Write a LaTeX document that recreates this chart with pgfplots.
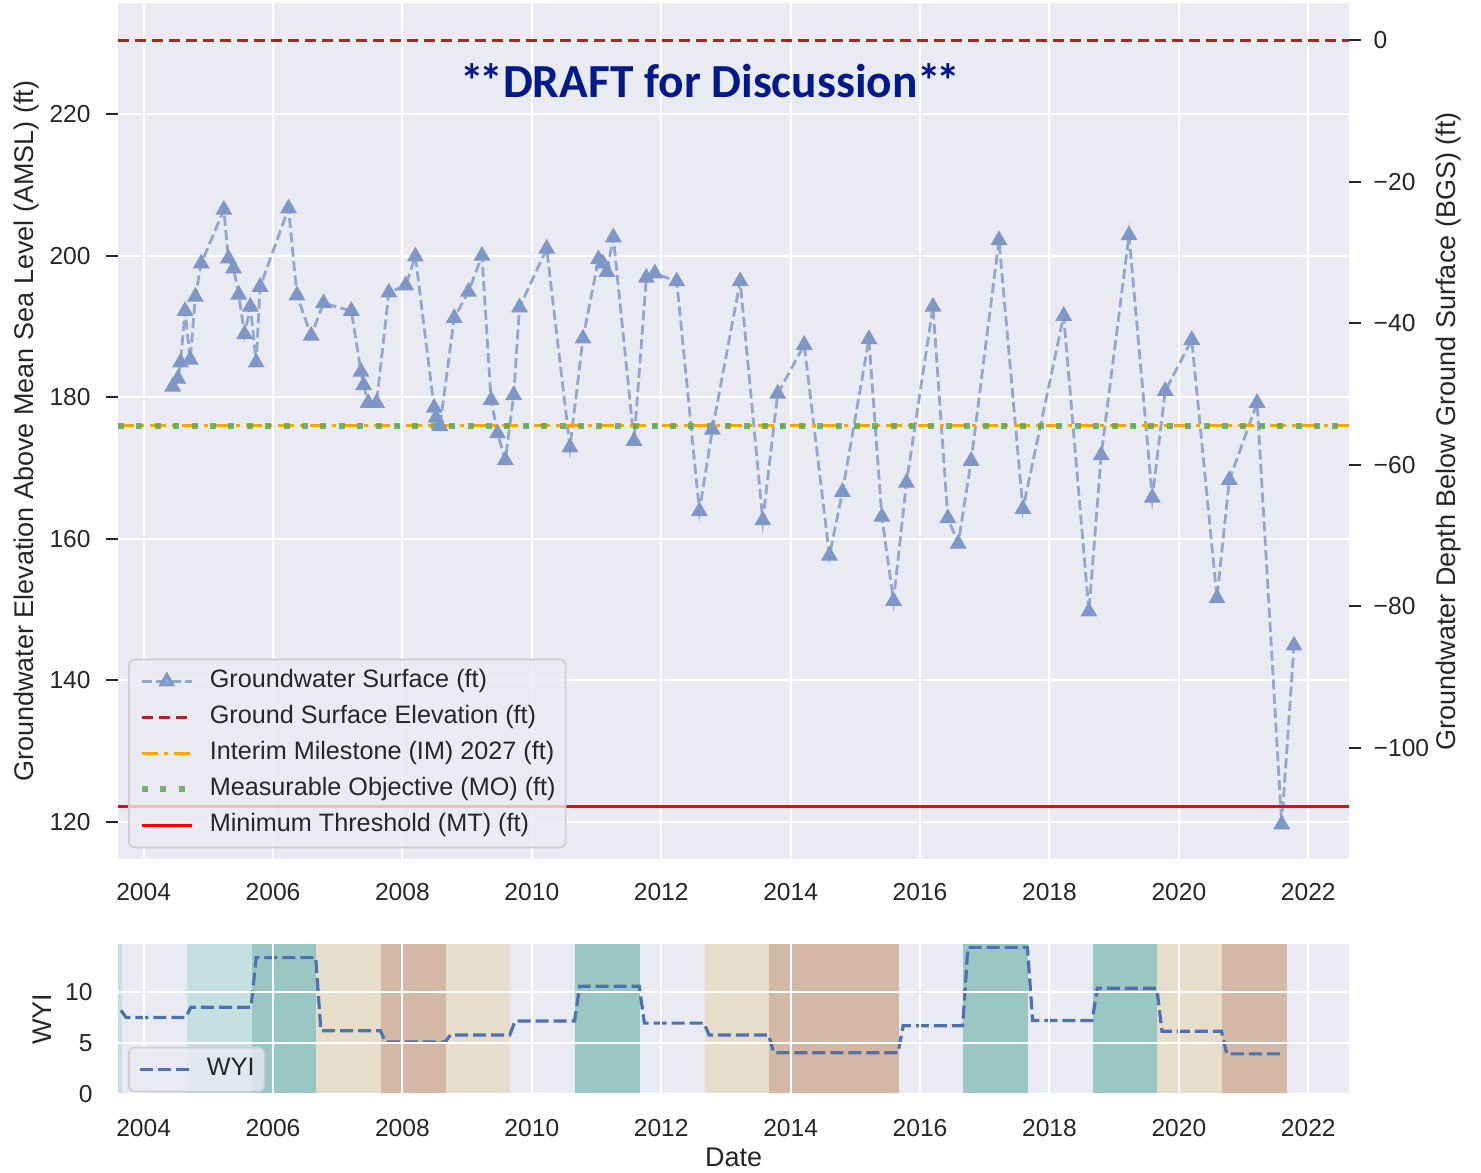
\documentclass[border=0pt]{standalone}
\usepackage{pgfplots}
\pgfplotsset{compat=1.18}
\usepackage{fontspec}
\setmainfont{Liberation Sans}
\newfontfamily\titlefont{Carlito}
\definecolor{bgc}{RGB}{234,234,242}
\definecolor{tk}{RGB}{38,38,38}
\definecolor{gwl}{RGB}{146,167,207}
\definecolor{gwm}{RGB}{126,151,199}
\definecolor{gse}{RGB}{178,34,34}
\definecolor{imc}{RGB}{255,165,0}
\definecolor{moc}{RGB}{96,166,92}
\definecolor{mtc}{RGB}{255,0,0}
\definecolor{wyic}{RGB}{76,114,176}
\definecolor{lteal}{RGB}{197,224,224}
\definecolor{dteal}{RGB}{154,198,196}
\definecolor{beige}{RGB}{231,221,203}
\definecolor{brownb}{RGB}{212,184,166}
\definecolor{navyt}{RGB}{0,26,140}
\definecolor{legedge}{RGB}{204,204,204}

\pgfplotsset{
  sb/.style={
    scale only axis, width=615.65pt,
    xmin=2003.604, xmax=2022.635,
    axis background/.style={fill=bgc},
    axis line style={draw=none},
    grid=major, major grid style={white, line width=1pt},
    xtick={2004,2006,...,2022},
    xticklabel style={/pgf/number format/1000 sep={}},
    /pgf/number format/assume math mode=true,
    tick label style={font=\fontsize{12.3}{14}\selectfont, text=tk, inner sep=0pt},
    label style={font=\fontsize{13.5}{16}\selectfont, text=tk},
    xtick style={draw=none},
    xticklabel style={anchor=center}, xticklabel shift=16.5pt,
    legend image code/.code={\draw[mark repeat=2,mark phase=2,##1] plot coordinates {(0pt,0pt) (12.5pt,0pt) (25pt,0pt)};},
    legend style={at={(axis description cs:0.0081,0.0129)}, anchor=south west,
      fill=bgc, fill opacity=0.8, text opacity=1, draw=legedge, line width=0.8pt,
      rounded corners=3pt, font=\fontsize{12.6}{15}\selectfont, text=tk,
      inner xsep=5pt, inner ysep=5pt, row sep=6pt, column sep=7.5pt,
      nodes={inner sep=0pt, text height=9pt, text depth=3pt}},
    legend cell align=left,
  }
}

\begin{document}
\begin{tikzpicture}[x=1pt,y=1pt]
\useasboundingbox (-59pt,-156.35pt) rectangle (681.5pt,429.65pt);

% ---------------- main axis ----------------
\begin{axis}[sb, at={(0pt,0pt)}, anchor=south west, height=428pt,
  ymin=114.68, ymax=235.69, ytick={120,140,...,220}, ytick pos=left,
  ytick style={draw=tk, line width=1pt}, tick align=outside, major tick length=6pt,
  yticklabel style={anchor=east}, yticklabel shift=7.5pt,
  xticklabel shift=10.5pt,
  ylabel={Groundwater Elevation Above Mean Sea Level (AMSL) (ft)},
  ylabel style={at={(axis description cs:-0.0739,0.5)}, anchor=center}]

\addplot[color=gwl, line width=1.4pt, dash pattern=on 5pt off 2.2pt,
  mark=triangle*, mark size=3.5pt, mark options={solid, fill=gwm, draw=gwm}]
coordinates {
(2004.45,181.5) (2004.53,182.6) (2004.57,184.9) (2004.64,192.2) (2004.72,185.3)
(2004.80,194.2) (2004.89,198.9) (2005.24,206.5) (2005.31,199.6) (2005.39,198.2)
(2005.47,194.5) (2005.56,188.9) (2005.65,192.8) (2005.74,184.9) (2005.80,195.6)
(2006.24,206.7) (2006.37,194.4) (2006.59,188.7) (2006.78,193.3) (2007.21,192.2)
(2007.36,183.6) (2007.40,181.7) (2007.47,179.2) (2007.60,179.2) (2007.79,194.8)
(2008.05,195.8) (2008.20,199.9) (2008.49,178.5) (2008.52,177.1) (2008.58,175.9)
(2008.80,191.2) (2009.02,194.9) (2009.23,200.0) (2009.37,179.6) (2009.47,174.9)
(2009.59,171.1) (2009.72,180.3) (2009.81,192.7) (2010.23,201.0) (2010.59,172.9)
(2010.79,188.3) (2011.03,199.5) (2011.10,198.9) (2011.16,197.7) (2011.26,202.6)
(2011.58,173.8) (2011.77,196.9) (2011.90,197.5) (2012.24,196.4) (2012.59,163.9)
(2012.79,175.4) (2013.22,196.4) (2013.57,162.6) (2013.80,180.5) (2014.21,187.4)
(2014.60,157.6) (2014.80,166.6) (2015.21,188.2) (2015.41,163.1) (2015.59,151.2)
(2015.79,167.9) (2016.20,192.8) (2016.43,162.9) (2016.59,159.3) (2016.79,171.0)
(2017.22,202.2) (2017.59,164.2) (2018.22,191.5) (2018.61,149.7) (2018.80,171.8)
(2019.23,202.9) (2019.59,165.8) (2019.79,180.9) (2020.20,188.1) (2020.59,151.6)
(2020.78,168.3) (2021.21,179.2) (2021.59,119.6) (2021.78,144.9)
};
\addlegendentry{Groundwater Surface (ft)}

\addplot[color=gse, line width=1.5pt, dash pattern=on 5.5pt off 3pt]
coordinates {(2003.604,230.45) (2022.635,230.45)};
\addlegendentry{Ground Surface Elevation (ft)}

\addplot[color=imc, line width=1.5pt, dash pattern=on 8pt off 3.2pt on 1.6pt off 3.2pt]
coordinates {(2003.604,176.0) (2022.635,176.0)};
\addlegendentry{Interim Milestone (IM) 2027 (ft)}

\addplot[color=moc, line width=3pt, dash pattern=on 3pt off 6.2pt, opacity=0.85]
coordinates {(2003.604,176.0) (2022.635,176.0)};
\addlegendentry{Measurable Objective (MO) (ft)}

\addplot[color=mtc, line width=1.5pt]
coordinates {(2003.604,122.1) (2022.635,122.1)};
\addlegendentry{Minimum Threshold (MT) (ft)}

\node[font=\titlefont\bfseries\fontsize{23.7}{28}\selectfont, text=navyt]
  at (axis cs:2012.76,224.7) {*\kern-0.1em*DRAFT for Discussion*\kern-0.1em*};
\end{axis}

% ---------------- right axis (BGS) ----------------
\begin{axis}[scale only axis, width=615.65pt, height=428pt, at={(0pt,0pt)}, anchor=south west,
  xmin=2003.604, xmax=2022.635, ymin=-115.77, ymax=5.24,
  hide x axis, axis y line*=right, axis line style={draw=none},
  ytick={-100,-80,-60,-40,-20,0}, yticklabels={−100,−80,−60,−40,−20,0},
  ytick style={draw=tk, line width=1pt}, tick align=outside, major tick length=6pt,
  tick label style={font=\fontsize{12.3}{14}\selectfont, text=tk, inner sep=0pt},
  yticklabel style={anchor=west}, yticklabel shift=6pt,
  ylabel={Groundwater Depth Below Ground Surface (BGS) (ft)},
  ylabel style={font=\fontsize{13.5}{16}\selectfont, text=tk,
    at={(axis description cs:1.0804,0.5)}, anchor=center, rotate=0}]
\addplot[draw=none, forget plot] coordinates {(2010,-50)};
\end{axis}

% ---------------- WYI panel ----------------
\begin{axis}[sb, at={(0pt,-42.5pt)}, anchor=north west, height=75pt,
  ymin=0, ymax=14.65, ytick={0,5,10}, ytick style={draw=none},
  yticklabel style={anchor=east}, yticklabel shift=12.5pt,
  xticklabel shift=17pt, axis on top,
  xlabel={Date}, xlabel style={at={(axis description cs:0.5,-0.42)}, anchor=center, inner sep=1pt},
  ylabel={WYI}, ylabel style={at={(axis description cs:-0.0617,0.5)}, anchor=center}]

\addplot[draw=none, fill=lteal, forget plot] coordinates {(2003.604,15) (2003.67,15)} \closedcycle;
\addplot[draw=none, fill=lteal, forget plot] coordinates {(2004.67,15) (2005.67,15)} \closedcycle;
\addplot[draw=none, fill=dteal, forget plot] coordinates {(2005.67,15) (2006.67,15)} \closedcycle;
\addplot[draw=none, fill=beige, forget plot] coordinates {(2006.67,15) (2007.67,15)} \closedcycle;
\addplot[draw=none, fill=brownb, forget plot] coordinates {(2007.67,15) (2008.67,15)} \closedcycle;
\addplot[draw=none, fill=beige, forget plot] coordinates {(2008.67,15) (2009.67,15)} \closedcycle;
\addplot[draw=none, fill=dteal, forget plot] coordinates {(2010.67,15) (2011.67,15)} \closedcycle;
\addplot[draw=none, fill=beige, forget plot] coordinates {(2012.67,15) (2013.67,15)} \closedcycle;
\addplot[draw=none, fill=brownb, forget plot] coordinates {(2013.67,15) (2015.67,15)} \closedcycle;
\addplot[draw=none, fill=dteal, forget plot] coordinates {(2016.67,15) (2017.67,15)} \closedcycle;
\addplot[draw=none, fill=dteal, forget plot] coordinates {(2018.67,15) (2019.67,15)} \closedcycle;
\addplot[draw=none, fill=beige, forget plot] coordinates {(2019.67,15) (2020.67,15)} \closedcycle;
\addplot[draw=none, fill=brownb, forget plot] coordinates {(2020.67,15) (2021.67,15)} \closedcycle;

\addplot[color=wyic, line width=1.6pt, dash pattern=on 6.5pt off 2.5pt]
coordinates {
(2003.65,8.2) (2003.73,7.5) (2004.65,7.5) (2004.73,8.5) (2005.66,8.5) (2005.74,13.35)
(2006.66,13.35) (2006.74,6.2) (2007.66,6.2) (2007.74,5.1) (2008.66,5.1) (2008.74,5.8)
(2009.66,5.8) (2009.74,7.15) (2010.66,7.15) (2010.74,10.55) (2011.66,10.55) (2011.74,6.95)
(2012.66,6.95) (2012.74,5.8) (2013.66,5.8) (2013.74,4.05) (2015.66,4.05) (2015.74,6.7)
(2016.66,6.7) (2016.74,14.35) (2017.66,14.35) (2017.74,7.2) (2018.66,7.2) (2018.74,10.35)
(2019.66,10.35) (2019.74,6.15) (2020.66,6.15) (2020.74,3.95) (2021.62,3.95)
};
\addlegendentry{WYI}
\end{axis}
\end{tikzpicture}
\end{document}
